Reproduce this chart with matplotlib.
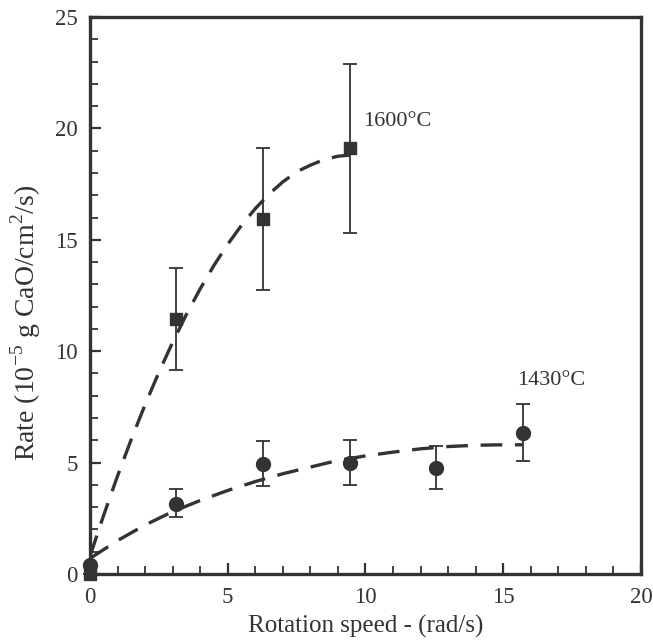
import matplotlib
matplotlib.use('Agg')
import matplotlib.pyplot as plt
from matplotlib.ticker import MultipleLocator

# measured points (rotation speed rad/s, rate 1e-5 g CaO/cm2/s)
speed_1600 = [0.0, 3.14, 6.28, 9.42]
rate_1600 = [0.0, 11.45, 15.95, 19.1]
err_lo_1600 = [0.0, 2.3, 3.2, 3.8]
err_hi_1600 = [0.0, 2.3, 3.15, 3.8]

speed_1430 = [0.0, 3.14, 6.28, 9.42, 12.57, 15.71]
rate_1430 = [0.4, 3.15, 4.95, 5.0, 4.75, 6.35]
err_lo_1430 = [0.0, 0.6, 1.0, 1.0, 0.95, 1.3]
err_hi_1430 = [0.0, 0.65, 1.0, 1.0, 1.0, 1.28]

# dashed fit curves
fit_x_1600 = [0, 0.5, 1, 1.5, 2, 2.5, 3, 3.5, 4, 4.5, 5, 5.5, 6, 6.5, 7, 7.5, 8, 8.5, 9, 9.42]
fit_y_1600 = [0.8, 2.65, 4.4, 6.05, 7.6, 9.05, 10.4, 11.65, 12.8, 13.85, 14.8, 15.65, 16.4,
              17.05, 17.6, 18.05, 18.35, 18.6, 18.75, 18.8]
fit_x_1430 = [0, 1, 2, 3, 4, 5, 6, 7, 8, 9, 10, 11, 12, 13, 14, 15, 15.7]
fit_y_1430 = [0.7, 1.5, 2.2, 2.8, 3.3, 3.75, 4.15, 4.5, 4.8, 5.1, 5.3, 5.47, 5.62, 5.72, 5.78, 5.8, 5.8]

plt.rcParams['font.family'] = ['Liberation Serif', 'DejaVu Serif']
plt.rcParams['mathtext.fontset'] = 'custom'
plt.rcParams['mathtext.rm'] = 'Liberation Serif'

col = '#333333'
fig = plt.figure(figsize=(6.53, 6.41), dpi=100)
ax = fig.add_axes([0.1378, 0.1045, 0.8438, 0.869])

ax.plot(fit_x_1600, fit_y_1600, ls=(0, (6.5, 3.8)), lw=2.4, color=col)
ax.plot(fit_x_1430, fit_y_1430, ls=(0, (6.5, 3.8)), lw=2.4, color=col)

ax.errorbar(speed_1600, rate_1600, yerr=[err_lo_1600, err_hi_1600], fmt='s', ms=9,
            color=col, ecolor=col, elinewidth=1.3, capsize=5, capthick=1.3, clip_on=False)
ax.errorbar(speed_1430, rate_1430, yerr=[err_lo_1430, err_hi_1430], fmt='o', ms=10,
            color=col, ecolor=col, elinewidth=1.3, capsize=5, capthick=1.3, clip_on=False)

ax.text(9.9, 20.3, '1600°C', fontsize=16, color=col, va='center', ha='left')
ax.text(15.5, 8.7, '1430°C', fontsize=16, color=col, va='center', ha='left')

ax.set_xlim(0, 20)
ax.set_ylim(0, 25)
ax.xaxis.set_major_locator(MultipleLocator(5))
ax.xaxis.set_minor_locator(MultipleLocator(1))
ax.yaxis.set_major_locator(MultipleLocator(5))
ax.yaxis.set_minor_locator(MultipleLocator(1))
ax.tick_params(which='both', direction='in', color=col, labelcolor=col, labelsize=16.5, pad=9)
ax.tick_params(which='major', length=8, width=1.6)
ax.tick_params(which='minor', length=5.5, width=1.3)
for s in ax.spines.values():
    s.set_linewidth(2.4)
    s.set_color(col)

ax.set_xlabel('Rotation speed - (rad/s)', fontsize=18, color=col, labelpad=5)
ax.set_ylabel('Rate (10$^{\\mathregular{-5}}$ g CaO/cm$^{\\mathregular{2}}$/s)', fontsize=20,
              color=col)
ax.yaxis.set_label_coords(-0.085, 0.45)

fig.savefig('out.png', dpi=100)
